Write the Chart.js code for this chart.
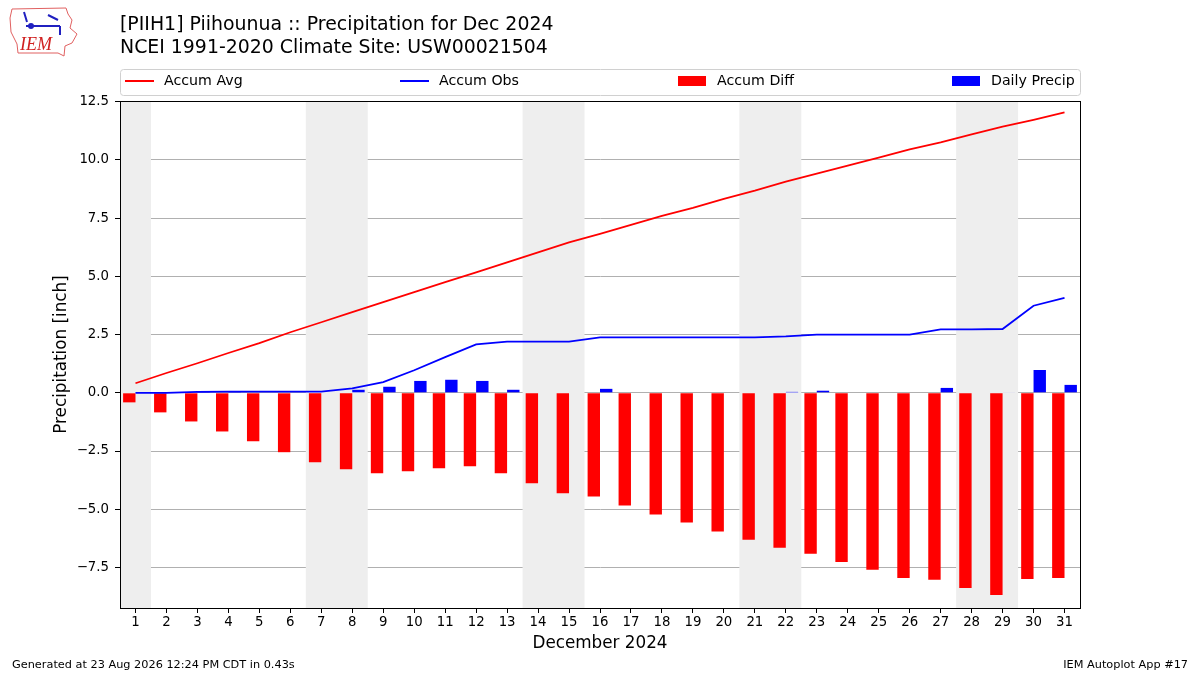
<!DOCTYPE html>
<html>
<head>
<meta charset="utf-8">
<title>PIIH1 Precipitation Dec 2024</title>
<script src="https://cdn.jsdelivr.net/npm/chart.js@4.4.1/dist/chart.umd.min.js"></script>
<style>
  html, body { margin: 0; padding: 0; background: #fff; }
  #wrap { width: 1200px; height: 675px; position: relative; }
</style>
</head>
<body>
<div id="wrap"><canvas id="chart" width="1200" height="675"></canvas></div>
<script>
// values
const days = [1, 2, 3, 4, 5, 6, 7, 8, 9, 10, 11, 12, 13, 14, 15, 16,
  17, 18, 19, 20, 21, 22, 23, 24, 25, 26, 27, 28, 29, 30, 31];
const accumAvg = [0.41, 0.85, 1.27, 1.71, 2.13, 2.60, 3.03, 3.46, 3.89, 4.32,
  4.75, 5.17, 5.60, 6.03, 6.46, 6.82, 7.21, 7.60, 7.94, 8.33, 8.68, 9.07,
  9.41, 9.76, 10.10, 10.45, 10.75, 11.10, 11.43, 11.72, 12.04];
const accumObs = [0.00, 0.00, 0.04, 0.05, 0.05, 0.05, 0.05, 0.19, 0.46, 0.97,
  1.53, 2.08, 2.20, 2.20, 2.20, 2.38, 2.38, 2.38, 2.38, 2.38, 2.38, 2.42,
  2.50, 2.50, 2.50, 2.50, 2.72, 2.72, 2.74, 3.74, 4.08];
const accumDiff = [-0.41, -0.84, -1.23, -1.66, -2.08, -2.55, -2.98, -3.28,
  -3.45, -3.37, -3.24, -3.15, -3.45, -3.88, -4.31, -4.45, -4.84, -5.23,
  -5.57, -5.96, -6.31, -6.65, -6.91, -7.26, -7.60, -7.95, -8.03, -8.38,
  -8.68, -7.99, -7.95];
const dailyPrecip = [0, 0, 0.04, 0.01, 0, 0, 0, 0.13, 0.26, 0.51, 0.56, 0.51,
  0.13, 0, 0, 0.17, 0, 0, 0, 0, 0, 0.04, 0.09, 0, 0, 0, 0.21, 0, 0.02,
  0.98, 0.34];
const weekendDays = [1, 7, 8, 14, 15, 21, 22, 28, 29];
const yTickValues = [-7.5, -5.0, -2.5, 0.0, 2.5, 5.0, 7.5, 10.0, 12.5];

const FONT = "'DejaVu Sans', sans-serif";
const minus = v => v.toFixed(1).replace('-', '\u2212');

function pts(vals) {
  return days.map((d, i) => ({ x: d, y: vals[i] }));
}

// group weekend days into contiguous [start, end] runs
function weekendRuns() {
  const runs = [];
  weekendDays.forEach(d => {
    const last = runs[runs.length - 1];
    if (last && last[1] === d - 1) last[1] = d;
    else runs.push([d, d]);
  });
  return runs;
}

// grey bands behind weekend days
const weekendBands = {
  id: 'weekendBands',
  beforeDatasetsDraw(chart) {
    const { ctx, chartArea, scales } = chart;
    ctx.save();
    ctx.fillStyle = '#eeeeee';
    weekendRuns().forEach(([d0, d1]) => {
      const x0 = scales.x.getPixelForValue(d0 - 0.5);
      const x1 = scales.x.getPixelForValue(d1 + 0.5);
      ctx.fillRect(x0, chartArea.top, x1 - x0, chartArea.bottom - chartArea.top);
    });
    ctx.restore();
  }
};

// titles, boxed legend, frame, footer and logo
const decorations = {
  id: 'decorations',
  afterDraw(chart) {
    const { ctx, chartArea } = chart;
    const a = chartArea;
    ctx.save();

    // frame round the plot
    ctx.strokeStyle = '#000';
    ctx.lineWidth = 1;
    ctx.strokeRect(a.left + 0.5, a.top + 0.5, a.right - a.left, a.bottom - a.top);

    // title
    ctx.fillStyle = '#000';
    ctx.font = '18.9px ' + FONT;
    ctx.textBaseline = 'middle';
    ctx.textAlign = 'left';
    ctx.fillText('[PIIH1] Piihounua :: Precipitation for Dec 2024', 120, 25);
    ctx.fillText('NCEI 1991-2020 Climate Site: USW00021504', 120, 48);

    // legend box
    const ly = 81;
    ctx.strokeStyle = '#d0d0d0';
    ctx.beginPath();
    ctx.roundRect(a.left + 0.5, 69.5, a.right - a.left, 26, 3);
    ctx.fillStyle = 'rgba(255,255,255,0.9)';
    ctx.fill();
    ctx.stroke();
    ctx.font = '14.2px ' + FONT;
    const starts = [125, 400, 678, 952];
    chart.data.datasets.forEach((ds, i) => {
      const x = starts[i];
      if (ds.type === 'line') {
        ctx.strokeStyle = ds.borderColor;
        ctx.lineWidth = 2;
        ctx.beginPath();
        ctx.moveTo(x, ly);
        ctx.lineTo(x + 29, ly);
        ctx.stroke();
      } else {
        ctx.fillStyle = ds.backgroundColor;
        ctx.fillRect(x, ly - 5, 28, 10);
      }
      ctx.fillStyle = '#000';
      ctx.fillText(ds.label, x + 39, ly);
    });

    // footer
    ctx.font = '11.3px ' + FONT;
    ctx.fillText('Generated at 23 Aug 2026 12:24 PM CDT in 0.43s', 12, 665);
    ctx.textAlign = 'right';
    ctx.fillText('IEM Autoplot App #17', 1188, 665);

    // simple IEM logo
    ctx.strokeStyle = '#e06060';
    ctx.lineWidth = 1;
    ctx.beginPath();
    ctx.moveTo(12, 9); ctx.lineTo(66, 8); ctx.lineTo(68, 14); ctx.lineTo(72, 20);
    ctx.lineTo(70, 28); ctx.lineTo(77, 34); ctx.lineTo(72, 43); ctx.lineTo(65, 46);
    ctx.lineTo(64, 56); ctx.lineTo(58, 53); ctx.lineTo(18, 53); ctx.lineTo(17, 44);
    ctx.lineTo(11, 32); ctx.lineTo(10, 18); ctx.closePath();
    ctx.stroke();
    ctx.strokeStyle = '#2020c0';
    ctx.lineWidth = 2;
    ctx.beginPath();
    ctx.moveTo(26, 26); ctx.lineTo(60, 26);
    ctx.moveTo(48, 15); ctx.lineTo(58, 20);
    ctx.moveTo(24, 12); ctx.lineTo(27, 22);
    ctx.moveTo(60, 26); ctx.lineTo(60, 35);
    ctx.stroke();
    ctx.fillStyle = '#2020c0';
    ctx.beginPath(); ctx.arc(31, 26, 3, 0, Math.PI * 2); ctx.fill();
    ctx.fillStyle = '#d02020';
    ctx.font = 'italic 18px "Liberation Serif", serif';
    ctx.textAlign = 'left';
    ctx.fillText('IEM', 20, 45);

    ctx.restore();
  }
};

const ctx = document.getElementById('chart').getContext('2d');
new Chart(ctx, {
  type: 'bar',
  data: {
    datasets: [
      {
        type: 'line',
        label: 'Accum Avg',
        data: pts(accumAvg),
        borderColor: '#ff0000',
        borderWidth: 1.8,
        pointRadius: 0,
        tension: 0
      },
      {
        type: 'line',
        label: 'Accum Obs',
        data: pts(accumObs),
        borderColor: '#0000ff',
        borderWidth: 1.8,
        pointRadius: 0,
        tension: 0
      },
      {
        label: 'Accum Diff',
        data: pts(accumDiff),
        backgroundColor: '#ff0000',
        categoryPercentage: 0.8,
        barPercentage: 1.0
      },
      {
        label: 'Daily Precip',
        data: pts(dailyPrecip),
        backgroundColor: '#0000ff',
        categoryPercentage: 0.8,
        barPercentage: 1.0
      }
    ]
  },
  options: {
    responsive: false,
    animation: false,
    devicePixelRatio: 1,
    layout: { padding: { top: 101, right: 120, left: 0, bottom: 0 } },
    plugins: {
      legend: { display: false },
      tooltip: { enabled: false }
    },
    scales: {
      x: {
        type: 'linear',
        min: 0.5,
        max: 31.5,
        offset: false,
        afterBuildTicks: s => { s.ticks = days.map(d => ({ value: d })); },
        afterFit: s => { s.height = 67; },
        ticks: {
          autoSkip: false,
          maxRotation: 0,
          color: '#000',
          padding: 2,
          font: { family: FONT, size: 13.3 },
          callback: v => String(v)
        },
        grid: { drawOnChartArea: false, offset: false, tickLength: 5, color: '#000' },
        border: { color: '#000' },
        title: {
          display: true,
          text: 'December 2024',
          color: '#000',
          font: { family: FONT, size: 16.8 },
          padding: { top: 4, bottom: 21 }
        }
      },
      y: {
        min: -9.24,
        max: 12.53,
        afterBuildTicks: s => { s.ticks = yTickValues.map(v => ({ value: v })); },
        afterFit: s => { s.width = 120; },
        ticks: {
          autoSkip: false,
          color: '#000',
          padding: 6,
          font: { family: FONT, size: 13.3 },
          callback: v => minus(v)
        },
        grid: { color: '#b0b0b0', tickColor: '#000', tickLength: 5 },
        border: { color: '#000' },
        title: {
          display: true,
          text: 'Precipitation [inch]',
          color: '#000',
          font: { family: FONT, size: 16.8 },
          padding: { top: 52, bottom: 0 }
        }
      }
    }
  },
  plugins: [weekendBands, decorations]
});
</script>
</body>
</html>
